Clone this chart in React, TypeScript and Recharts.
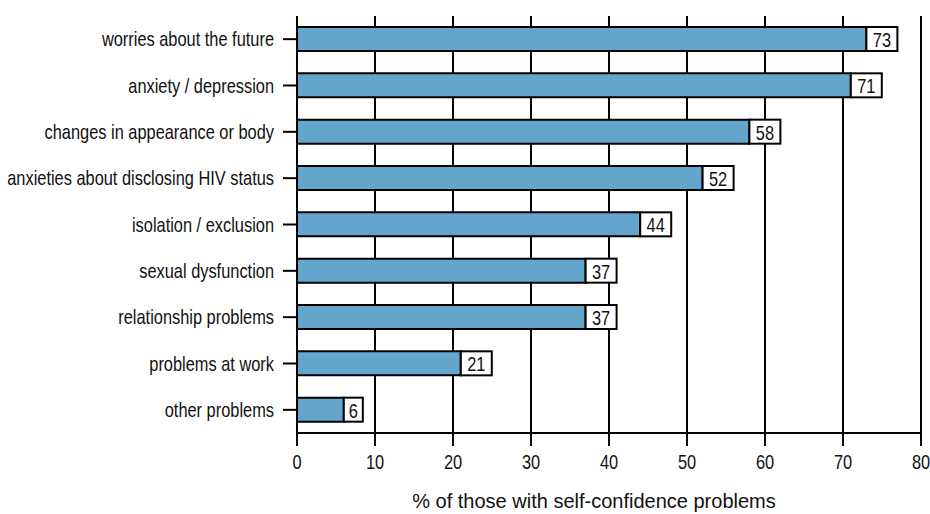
import React from "react";
import { Bar, BarChart, CartesianGrid, LabelList, XAxis, YAxis, Label } from "recharts";

// Reasons behind self-confidence problems, % of respondents
const categorias = [
  "worries about the future",
  "anxiety / depression",
  "changes in appearance or body",
  "anxieties about disclosing HIV status",
  "isolation / exclusion",
  "sexual dysfunction",
  "relationship problems",
  "problems at work",
  "other problems",
];
const valores = [73, 71, 58, 52, 44, 37, 37, 21, 6];
const marcasX = [0, 10, 20, 30, 40, 50, 60, 70, 80];

const dados = categorias.map((nome, i) => ({ nome, valor: valores[i] }));

const fonte = "'Liberation Sans', Arial, sans-serif";
// sem fonte condensada instalada: comprime na horizontal
const APERTO = 0.82;

function TextoEstreito({ x, y, texto, ancora, tamanho }: { x: number; y: number; texto: string; ancora: "start" | "middle" | "end"; tamanho: number }) {
  return (
    <g transform={`translate(${x},${y}) scale(${APERTO},1)`}>
      <text x={0} y={0} textAnchor={ancora} dominantBaseline="central" fontFamily={fonte} fontSize={tamanho} fill="#111">
        {texto}
      </text>
    </g>
  );
}

function TickCategoria(props: any) {
  const { x, y, payload } = props;
  return <TextoEstreito x={x} y={y} texto={String(payload.value)} ancora="end" tamanho={20} />;
}

function TickNumero(props: any) {
  const { x, y, payload } = props;
  return <TextoEstreito x={x} y={y + 10} texto={String(payload.value)} ancora="middle" tamanho={20} />;
}

function CaixaValor(props: any) {
  const { x, y, width, height, value } = props;
  const texto = String(value);
  const largura = 7 + 12 * texto.length;
  const x0 = Number(x) + Number(width);
  return (
    <g>
      <rect x={x0} y={y} width={largura} height={height} fill="#fff" stroke="#000" strokeWidth={2} />
      <TextoEstreito x={x0 + largura / 2} y={Number(y) + Number(height) / 2 + 1} texto={texto} ancora="middle" tamanho={20} />
    </g>
  );
}

export default function App() {
  return (
    <div style={{ position: "absolute", left: 0, top: 0, background: "#fff" }}>
      <BarChart
        width={930}
        height={514}
        data={dados}
        layout="vertical"
        margin={{ top: 16, right: 9, left: 0, bottom: 0 }}
        barCategoryGap={22}
      >
        <CartesianGrid horizontal={false} stroke="#000" strokeWidth={2} />
        <XAxis
          type="number"
          domain={[0, 80]}
          ticks={marcasX}
          height={81}
          tickSize={13}
          tickMargin={6}
          stroke="#000"
          strokeWidth={2}
          tick={<TickNumero />}
        >
          <Label
            value="% of those with self-confidence problems"
            position="insideBottom"
            offset={6}
            dx={-15}
            style={{ fill: "#111", fontSize: 20, fontFamily: fonte }}
          />
        </XAxis>
        <YAxis
          type="category"
          dataKey="nome"
          width={297}
          tickSize={14}
          tickMargin={9}
          stroke="#000"
          strokeWidth={2}
          tick={<TickCategoria />}
        />
        <Bar
          dataKey="valor"
          fill="#63a5cb"
          stroke="#000"
          strokeWidth={2}
          barSize={24}
          isAnimationActive={false}
        >
          <LabelList dataKey="valor" content={<CaixaValor />} />
        </Bar>
      </BarChart>
    </div>
  );
}
